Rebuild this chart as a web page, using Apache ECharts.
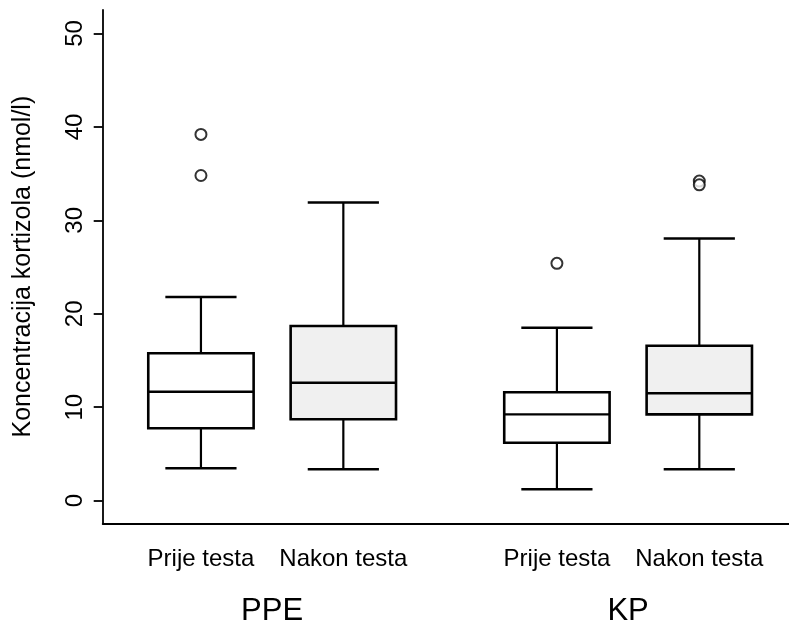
<!DOCTYPE html>
<html>
<head>
<meta charset="utf-8">
<script src="https://cdn.jsdelivr.net/npm/echarts@6/dist/echarts.min.js"></script>
<style>
  html, body { margin: 0; padding: 0; background: #ffffff; }
  #chart { width: 789px; height: 630px; }
</style>
</head>
<body>
<div id="chart"></div>
<script>
// ---- data ----
const categories = ['Prije testa', 'Nakon testa', 'Prije testa', 'Nakon testa'];
const groups = ['PPE', 'KP'];
const positions = [1, 2, 3.5, 4.5];
const groupPositions = [1.5, 4];
const lowerWhisker = [3.47, 3.36, 1.22, 3.36];
const q1 = [7.75, 8.71, 6.2, 9.24];
const median = [11.66, 12.62, 9.24, 11.49];
const q3 = [15.77, 18.69, 11.6, 16.58];
const upperWhisker = [21.8, 31.9, 18.5, 28.07];
const outliers = [[39.2, 34.8], [], [25.4], [34.2, 33.8]];
const yTicks = [0, 10, 20, 30, 40, 50];
const yName = 'Koncentracija kortizola (nmol/l)';

// ---- styles ----
const boxFills = ['#ffffff', '#f0f0f0', '#ffffff', '#f0f0f0'];
const FONT = '"Liberation Sans", Arial, Helvetica, sans-serif';

const boxData = positions.map((p, i) => [p, lowerWhisker[i], q1[i], median[i], q3[i], upperWhisker[i], i]);
const outlierData = [];
outliers.forEach((arr, i) => arr.forEach(v => outlierData.push([positions[i], v])));

function labelFor(list, vals) {
  return function (v) {
    for (let i = 0; i < vals.length; i++) {
      if (Math.abs(vals[i] - v) < 1e-6) return list[i];
    }
    return '';
  };
}

const chart = echarts.init(document.getElementById('chart'), null, { renderer: 'canvas' });
chart.setOption({
  animation: false,
  backgroundColor: '#ffffff',
  grid: { left: 102.7, right: 0, top: 10, bottom: 106.7, containLabel: false },
  xAxis: [
    {
      type: 'value', min: 0.31, max: 5.13,
      axisLine: { show: true, onZero: false, lineStyle: { color: '#000', width: 1.8 } },
      axisTick: { show: false },
      splitLine: { show: false },
      axisLabel: {
        customValues: positions,
        formatter: labelFor(categories, positions),
        color: '#000', fontSize: 24, fontFamily: FONT, margin: 24
      }
    },
    {
      type: 'value', min: 0.31, max: 5.13, position: 'bottom',
      axisLine: { show: false, onZero: false },
      axisTick: { show: false },
      splitLine: { show: false },
      axisLabel: {
        customValues: groupPositions,
        formatter: labelFor(groups, groupPositions),
        color: '#000', fontSize: 31, fontFamily: FONT, margin: 73
      }
    }
  ],
  yAxis: {
    type: 'value', min: -2.42, max: 52.51,
    axisLine: { show: true, onZero: false, lineStyle: { color: '#000', width: 1.8 } },
    axisTick: { show: true, customValues: yTicks, length: 9, lineStyle: { color: '#000', width: 1.8 } },
    splitLine: { show: false },
    axisLabel: {
      customValues: yTicks, rotate: 90, color: '#000', fontSize: 24, fontFamily: FONT, margin: 15
    },
    name: yName, nameLocation: 'middle', nameRotate: 90, nameGap: 67,
    nameTextStyle: { color: '#000', fontSize: 25, fontFamily: FONT }
  },
  series: [
    {
      type: 'custom',
      data: boxData,
      encode: { x: 0, y: [1, 2, 3, 4, 5] },
      renderItem: function (params, api) {
        const x = api.value(0);
        const idx = api.value(6);
        const unit = api.size([1, 0])[0];
        const hw = unit * 0.37, cw = unit * 0.25;
        const cx = api.coord([x, 0])[0];
        const yLo = api.coord([x, api.value(1)])[1];
        const yQ1 = api.coord([x, api.value(2)])[1];
        const yMed = api.coord([x, api.value(3)])[1];
        const yQ3 = api.coord([x, api.value(4)])[1];
        const yHi = api.coord([x, api.value(5)])[1];
        const ls = { stroke: '#000', lineWidth: 2.2 };
        return {
          type: 'group',
          children: [
            { type: 'line', shape: { x1: cx, y1: yQ3, x2: cx, y2: yHi }, style: ls },
            { type: 'line', shape: { x1: cx, y1: yQ1, x2: cx, y2: yLo }, style: ls },
            { type: 'line', shape: { x1: cx - cw, y1: yHi, x2: cx + cw, y2: yHi }, style: { stroke: '#000', lineWidth: 2.5 } },
            { type: 'line', shape: { x1: cx - cw, y1: yLo, x2: cx + cw, y2: yLo }, style: { stroke: '#000', lineWidth: 2.5 } },
            { type: 'rect', shape: { x: cx - hw, y: yQ3, width: 2 * hw, height: yQ1 - yQ3 },
              style: { fill: boxFills[idx], stroke: '#000', lineWidth: 2.6 } },
            { type: 'line', shape: { x1: cx - hw, y1: yMed, x2: cx + hw, y2: yMed }, style: { stroke: '#000', lineWidth: 2.4 } }
          ]
        };
      },
      z: 2
    },
    {
      type: 'scatter',
      data: outlierData,
      symbol: 'circle',
      symbolSize: 11,
      itemStyle: { color: '#ffffff', borderColor: '#000', borderWidth: 2 },
      z: 3
    }
  ]
});
</script>
</body>
</html>
